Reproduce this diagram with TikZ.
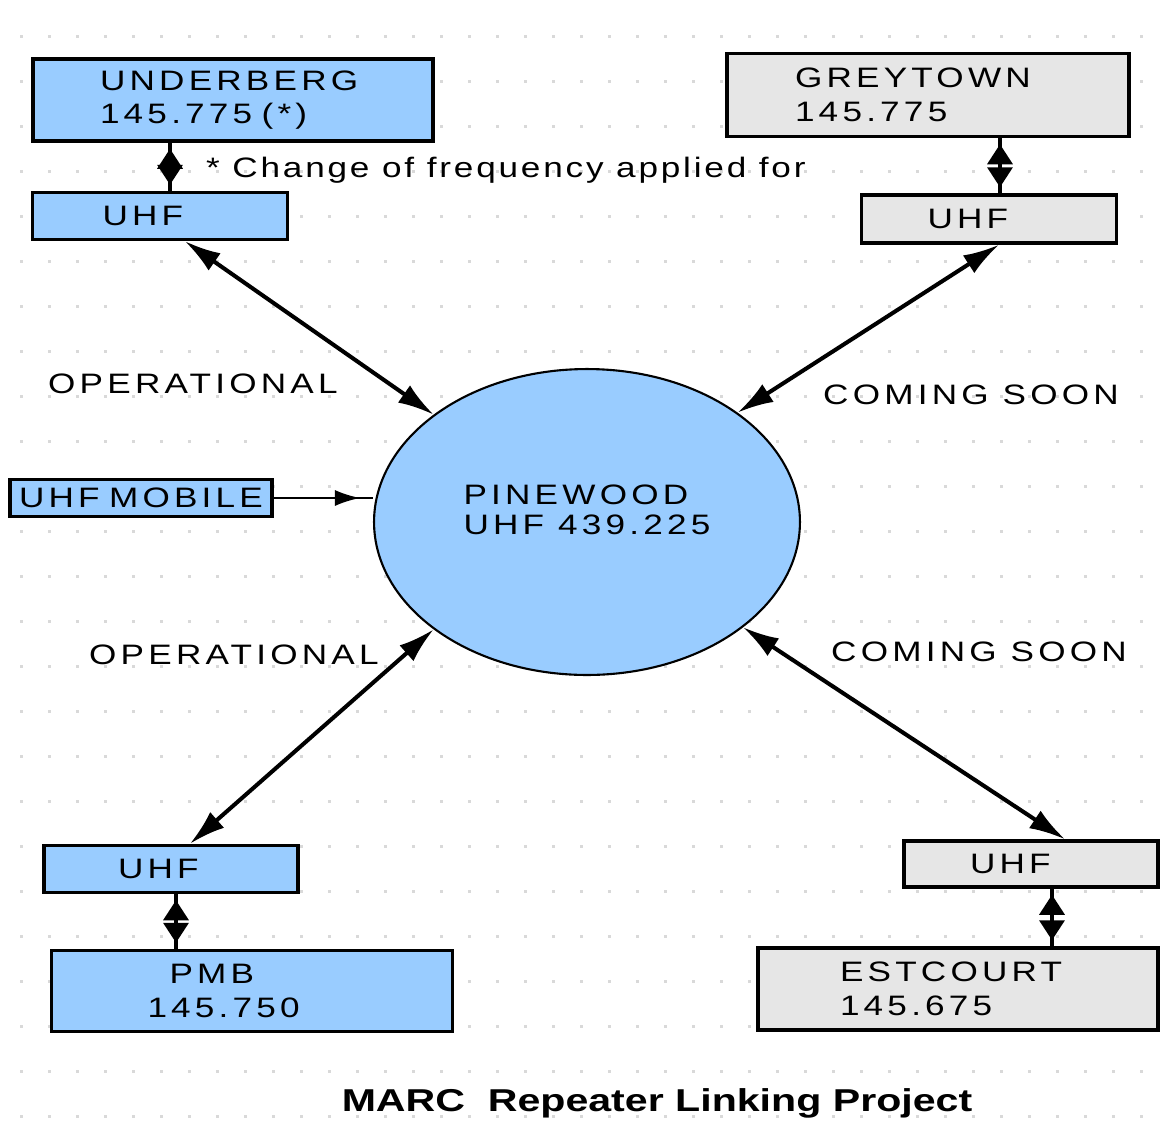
\documentclass[tikz,border=0pt]{standalone}
\usepackage{fontspec}
\setmainfont{Liberation Sans}[FakeStretch=1.25,LetterSpace=15]
\newfontfamily\titlefont{Liberation Sans}[FakeStretch=1.3]
\usetikzlibrary{arrows.meta}
\usetikzlibrary{shapes.geometric}

\definecolor{siteblue}{RGB}{153,204,255}
\definecolor{sitegrey}{RGB}{230,230,230}

\begin{document}
\begin{tikzpicture}[x=0.02cm,y=-0.02cm,
    every node/.style={font=\fontsize{16}{19}\selectfont},
    site/.style={draw,line width=2pt,rectangle,align=left,inner ysep=0pt},
    bluesite/.style={site,fill=siteblue},
    greysite/.style={site,fill=sitegrey},
    hub/.style={draw,line width=1.2pt,ellipse,fill=siteblue,inner sep=0pt,minimum width=8.52cm,minimum height=6.12cm},
    link/.style={line width=2.3pt,{Latex[length=0.72cm,width=0.42cm]}-{Latex[length=0.72cm,width=0.42cm]}},
    tie/.style={line width=2pt,{Triangle[length=0.4cm,width=0.5cm]}-{Triangle[length=0.4cm,width=0.5cm]},shorten <=0.12cm,shorten >=0.12cm}]

    % white page, fixes the size
    \useasboundingbox[fill=white] (0,0) rectangle (1161,1144);

    % draw dotted background
    \foreach \gy in {35,80,...,1130}
        \foreach \gx in {20,48,...,1150}
            \fill[gray!30] (\gx,\gy) rectangle ++(3,3);

    % repeater sites
    \node[bluesite,minimum width=8cm,minimum height=1.64cm,inner xsep=1.34cm,text width=5.32cm] (underberg) at (233,100) {UNDERBERG\\145.775 (*)};
    \node[bluesite,minimum width=5.1cm,minimum height=0.94cm,inner xsep=1.4cm,text width=2.3cm] (ubuhf) at (160,216) {UHF};
    \node[greysite,minimum width=8.04cm,minimum height=1.66cm,inner xsep=1.36cm,text width=5.32cm] (greytown) at (928,95) {GREYTOWN\\145.775};
    \node[greysite,minimum width=5.1cm,minimum height=0.96cm,inner xsep=1.32cm,text width=2.46cm] (gtuhf) at (989,219) {UHF};
    \node[bluesite,minimum width=5.08cm,minimum height=0.94cm,inner xsep=1.48cm,text width=2.12cm] (pmbuhf) at (171,869) {UHF};
    \node[bluesite,minimum width=8.02cm,minimum height=1.62cm,inner xsep=1.92cm,text width=4.18cm] (pmb) at (252,991) {\hspace*{0.44cm}PMB\\145.750};
    \node[greysite,minimum width=5.08cm,minimum height=0.92cm,inner xsep=1.32cm,text width=2.44cm] (ecuhf) at (1031,864) {UHF};
    \node[greysite,minimum width=8cm,minimum height=1.64cm,inner xsep=1.64cm,text width=4.72cm] (estcourt) at (958,989) {ESTCOURT\\145.675};
    \node[bluesite,minimum width=5.24cm,minimum height=0.74cm,inner xsep=0pt,align=center,text width=5.24cm] (mobile) at (141,498) {UHF MOBILE};

    % central hub
    \node[hub] (pinewood) at (587,522) {\raisebox{0.84cm}{\begin{tabular}{@{}l@{}}PINEWOOD\\[-2pt]UHF 439.225\end{tabular}}};

    % links to the hub
    \draw[link] ([xshift=0.5cm]ubuhf.south) -- (pinewood.145);
    \draw[link] ([xshift=0.2cm]gtuhf.south) -- (pinewood.36);
    \draw[link] ([xshift=0.38cm]pmbuhf.north) -- (pinewood.215);
    \draw[link] ([xshift=0.68cm]ecuhf.north) -- (pinewood.-34);

    % site to uhf ties
    \draw[line width=2pt] ([xshift=-1.26cm]underberg.south) -- ([xshift=-1.26cm]underberg.south |- ubuhf.north);
    \draw[tie] ([xshift=-1.26cm]underberg.south) -- ([xshift=-1.26cm]underberg.south |- ubuhf.north);
    \draw[line width=2pt] ([xshift=1.44cm]greytown.south) -- ([xshift=1.44cm]greytown.south |- gtuhf.north);
    \draw[tie] ([xshift=1.44cm]greytown.south) -- ([xshift=1.44cm]greytown.south |- gtuhf.north);
    \draw[line width=2pt] ([xshift=0.1cm]pmbuhf.south) -- ([xshift=0.1cm]pmbuhf.south |- pmb.north);
    \draw[tie] ([xshift=0.1cm]pmbuhf.south) -- ([xshift=0.1cm]pmbuhf.south |- pmb.north);
    \draw[line width=2pt] ([xshift=0.42cm]ecuhf.south) -- ([xshift=0.42cm]ecuhf.south |- estcourt.north);
    \draw[tie] ([xshift=0.42cm]ecuhf.south) -- ([xshift=0.42cm]ecuhf.south |- estcourt.north);

    % mobile into the hub
    \draw[line width=1.2pt] (mobile.east) -- (mobile.east -| pinewood.west);
    \draw[line width=1.2pt,-{Latex[length=0.5cm,width=0.32cm]},shorten >=0.26cm] (mobile.east) -- (mobile.east -| pinewood.west);

    % status labels
    \node[anchor=west,font=\fontsize{16}{19}\selectfont\addfontfeature{LetterSpace=10}] (note) at (200,170) {* Change of frequency applied for};
    \node[anchor=west] (op1) at (42,384) {OPERATIONAL};
    \node[anchor=west] (cs1) at (817,395) {COMING SOON};
    \node[anchor=west] (op2) at (83,655) {OPERATIONAL};
    \node[anchor=west] (cs2) at (825,652) {COMING SOON};

    % title
    \node[font=\fontsize{18}{21}\titlefont\bfseries] (title) at (657,1103) {MARC~~Repeater Linking Project};
\end{tikzpicture}
\end{document}
